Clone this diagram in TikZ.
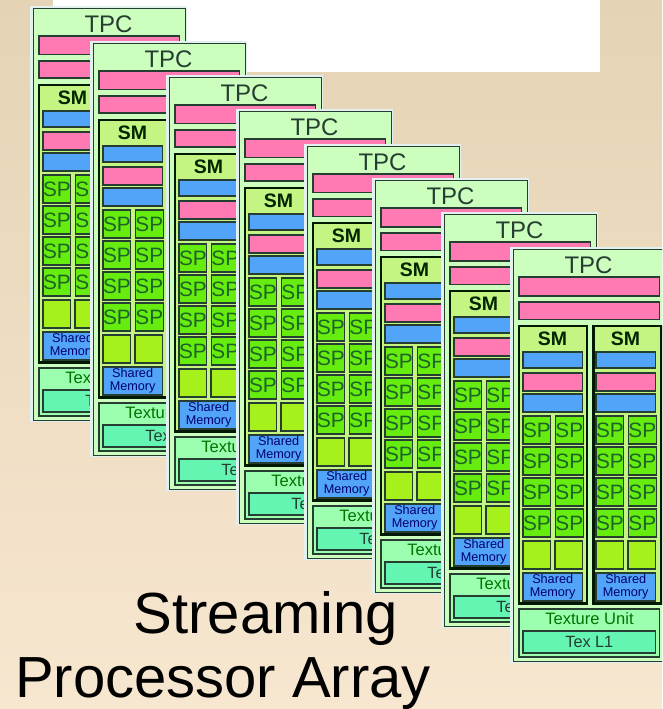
\documentclass[tikz,border=0pt]{standalone}
\usepackage{fontspec}
\setmainfont{Liberation Sans}
\usetikzlibrary{positioning,calc}
\definecolor{PageTop}{RGB}{228,211,180}
\definecolor{PageLow}{RGB}{248,231,208}
\definecolor{CardEdge}{RGB}{226,240,240}
\definecolor{CardFill}{RGB}{204,255,190}
\definecolor{LineDark}{RGB}{38,62,50}
\definecolor{SpInk}{RGB}{30,100,40}
\definecolor{SoftPink}{RGB}{255,122,178}
\definecolor{SoftBlue}{RGB}{82,164,248}
\definecolor{SmFill}{RGB}{196,244,130}
\definecolor{SpGreen}{RGB}{102,236,14}
\definecolor{EmptyGreen}{RGB}{166,240,28}
\definecolor{TexFill}{RGB}{155,255,175}
\definecolor{CacheFill}{RGB}{100,245,178}
\tikzset{
  box/.style={draw=LineDark,line width=0.85pt,anchor=north west,inner sep=0pt,outer sep=0pt,align=center},
  cardback/.style={fill=CardEdge,anchor=north west,inner sep=0pt,outer sep=0pt,minimum width=118pt,minimum height=312pt},
  card/.style={box,line width=0.6pt,fill=CardFill,minimum width=114pt,minimum height=309pt},
  label/.style={inner sep=0pt,outer sep=0pt},
  tpctext/.style={label,text=LineDark,font=\fontsize{18}{18}\selectfont},
  smtext/.style={label,text=black!85!green,font=\fontsize{14.6}{15}\selectfont\bfseries},
  bar/.style={box,fill=SoftPink,minimum width=105.5pt},
  smbox/.style={box,fill=SmFill,line width=2.2pt,draw=black!90!green,minimum width=51pt,minimum height=208pt},
  bluebar/.style={box,fill=SoftBlue,minimum width=44.5pt},
  pinkbar/.style={box,fill=SoftPink,minimum width=44.5pt},
  spbox/.style={box,fill=SpGreen,text=SpInk,minimum width=20.5pt,minimum height=21pt,font=\fontsize{15.6}{16}\selectfont},
  emptybox/.style={box,fill=EmptyGreen,minimum width=20.5pt,minimum height=21pt},
  shared/.style={box,fill=SoftBlue,text=blue!45!black,minimum width=44.5pt,minimum height=21pt,font=\fontsize{9.5}{9.5}\selectfont},
  texunit/.style={box,fill=TexFill,minimum width=105.5pt,minimum height=36pt},
  texcache/.style={box,fill=CacheFill,text=LineDark,minimum width=99.5pt,minimum height=16.5pt,font=\fontsize{12.2}{12.2}\selectfont},
  textext/.style={label,text=green!45!black,font=\fontsize{12.4}{12.4}\selectfont},
  titletext/.style={label,text=black,font=\fontsize{43.5}{43.5}\selectfont}
}

\begin{document}
\begin{tikzpicture}[x=0.75pt,y=-0.75pt]
\useasboundingbox (0,0) rectangle (662,709);
\clip (0,0) rectangle (662,709);
\shade[top color=PageTop,bottom color=PageLow] (0,0) rectangle (662,709);
\fill[white] (53,0) rectangle (600,72);

\foreach \id/\cx/\cy in {a/30/6,b/90/41,c/166/75,d/236/109,e/304/144,f/372/178,g/441/212,h/510/247}{
\begin{scope}[shift={(\cx,\cy)}]
\node[cardback] (back\id) at (0,0) {};
\node[card] (card\id) at (3,2) {};
\node[tpctext] (tpc\id) at (78.5,18.5) {TPC};
\node[bar,minimum height=14.2pt] (pinka\id) at (9,30) {};
\node[bar,minimum height=12.8pt] (pinkb\id) at (9,55) {};
\foreach \sm/\smx/\inx in {l/9/13,r/83.5/86}{
  \node[smbox] (sm\sm\id) at (\smx,79) {};
  \node[smtext] (smt\sm\id) at ($(\inx,92)+(29.5,0)$) {SM};
  \node[bluebar,minimum height=12pt] (blua\sm\id) at (\inx,105) {};
  \node[pinkbar,minimum height=13.5pt] (pnk\sm\id) at (\inx,126) {};
  \node[bluebar,minimum height=13.5pt] (blub\sm\id) at (\inx,147) {};
  \foreach \r/\ry in {1/169,2/200,3/231,4/262}{
    \node[spbox] (spa\r\sm\id) at (\inx,\ry) {SP};
    \node[spbox,right=3.5pt of spa\r\sm\id.north east,anchor=north west] (spb\r\sm\id) {SP};
  }
  \node[emptybox] (emptya\sm\id) at (\inx,294) {};
  \node[emptybox,right=3.5pt of emptya\sm\id.north east,anchor=north west] (emptyb\sm\id) {};
  \node[shared] (mem\sm\id) at (\inx,326) {Shared\\Memory};
}
\node[texunit] (tex\id) at (9,362) {};
\node[textext] (texu\id) at (79.5,372) {Texture Unit};
\node[texcache] (texl\id) at (13,384) {Tex L1};
\end{scope}
}

\node[titletext] (titlea) at (266,618) {Streaming};
\node[titletext] (titleb) at (223,684) {Processor Array};
\end{tikzpicture}
\end{document}
